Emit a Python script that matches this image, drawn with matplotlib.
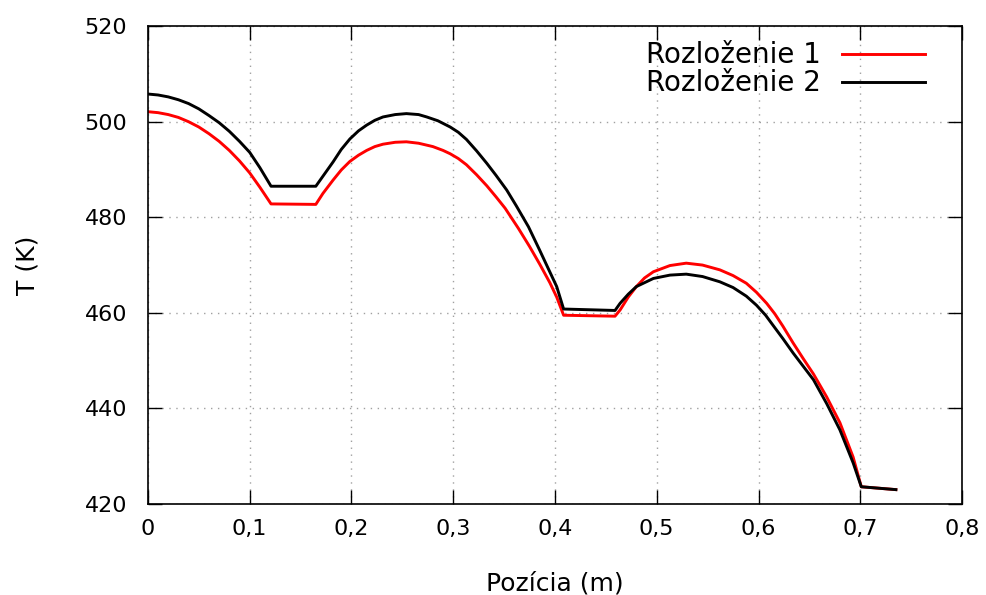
# teplotny profil pozdlz pozicie - dve rozlozenia
import matplotlib
matplotlib.use('Agg')
import matplotlib.pyplot as plt
from matplotlib.ticker import FuncFormatter
import numpy as np

# rozlozenie 1 (cervena)
x1 = [0.0, 0.01, 0.02, 0.03, 0.04, 0.05, 0.06, 0.07, 0.08, 0.09, 0.10, 0.11, 0.121,
      0.165, 0.172, 0.182, 0.19, 0.1985, 0.207, 0.215, 0.223, 0.231, 0.243, 0.254,
      0.266, 0.28, 0.29, 0.297, 0.305, 0.313, 0.323, 0.333, 0.342, 0.351, 0.364,
      0.375, 0.385, 0.395, 0.4017, 0.4085, 0.459, 0.464, 0.472, 0.48, 0.488, 0.4967,
      0.513, 0.529, 0.545, 0.562, 0.575, 0.588, 0.598, 0.608, 0.616, 0.624, 0.634,
      0.644, 0.654, 0.667, 0.68, 0.693, 0.701, 0.735]
t1 = [502.1, 501.9, 501.5, 500.9, 500.0, 498.9, 497.5, 495.9, 494.0, 491.8, 489.3,
      486.3, 482.8, 482.7, 485.0, 487.8, 489.9, 491.7, 493.0, 494.0, 494.8, 495.3,
      495.7, 495.8, 495.5, 494.8, 494.0, 493.3, 492.3, 491.0, 488.9, 486.6, 484.3,
      481.9, 477.7, 473.9, 470.2, 466.3, 463.3, 459.5, 459.3, 460.6, 463.3, 465.5,
      467.3, 468.6, 469.9, 470.4, 470.0, 469.0, 467.8, 466.2, 464.3, 462.0, 459.8,
      457.2, 453.7, 450.4, 447.2, 442.4, 437.0, 429.8, 423.6, 423.0]

# rozlozenie 2 (cierna)
x2 = [0.0, 0.01, 0.02, 0.03, 0.04, 0.05, 0.06, 0.07, 0.08, 0.09, 0.10, 0.11, 0.121,
      0.165, 0.172, 0.182, 0.19, 0.1985, 0.207, 0.215, 0.223, 0.231, 0.243, 0.254,
      0.266, 0.274, 0.285, 0.297, 0.305, 0.313, 0.323, 0.333, 0.342, 0.3526, 0.362,
      0.374, 0.385, 0.394, 0.4017, 0.4085, 0.459, 0.464, 0.472, 0.48, 0.4967, 0.513,
      0.529, 0.545, 0.562, 0.575, 0.588, 0.598, 0.607, 0.6146, 0.624, 0.634, 0.644,
      0.654, 0.667, 0.68, 0.693, 0.701, 0.735]
t2 = [505.8, 505.6, 505.2, 504.6, 503.8, 502.7, 501.3, 499.8, 498.0, 495.9, 493.6,
      490.4, 486.5, 486.5, 488.6, 491.6, 494.2, 496.4, 498.1, 499.3, 500.3, 501.0,
      501.5, 501.7, 501.5, 501.0, 500.2, 498.9, 497.8, 496.3, 493.9, 491.3, 488.8,
      485.7, 482.4, 478.0, 473.1, 469.0, 465.5, 460.8, 460.5, 462.0, 463.9, 465.5,
      467.2, 467.9, 468.1, 467.6, 466.5, 465.3, 463.5, 461.6, 459.5, 457.3, 454.6,
      451.6, 448.8, 446.0, 441.0, 435.5, 428.6, 423.6, 423.0]

xticks = np.arange(0, 0.81, 0.1)
yticks = np.arange(420, 521, 20)

fig = plt.figure(figsize=(9.86, 5.95), dpi=100)
ax = fig.add_axes([0.150, 0.153, 0.8257, 0.803])

ax.plot(x1, t1, color='#ff0000', lw=2.1, label='Rozloženie 1')
ax.plot(x2, t2, color='black', lw=2.1, label='Rozloženie 2')

ax.set_xlim(0, 0.8)
ax.set_ylim(420, 520)
ax.set_xticks(xticks)
ax.set_yticks(yticks)
ax.xaxis.set_major_formatter(FuncFormatter(lambda v, p: '0' if abs(v) < 1e-9 else ('%.1f' % v).replace('.', ',')))
ax.tick_params(direction='in', length=10, width=1, labelsize=16, top=True, right=True)
ax.tick_params(axis='x', pad=11)
ax.tick_params(axis='y', pad=15)
ax.grid(True, color='#a0a0a0', linestyle=(0, (1, 4)), linewidth=1)
for s in ax.spines.values():
    s.set_linewidth(1.2)

ax.set_xlabel('Pozícia (m)', fontsize=18, labelpad=23)
ax.set_ylabel('T (K)', fontsize=18, labelpad=32)

ax.legend(loc='upper right', frameon=False, fontsize=20, markerfirst=False,
          handlelength=3.0, handletextpad=0.75, labelspacing=0.0,
          borderpad=0, borderaxespad=0, bbox_to_anchor=(0.9545, 0.968))

plt.savefig('out.png', dpi=100)
plt.close()
